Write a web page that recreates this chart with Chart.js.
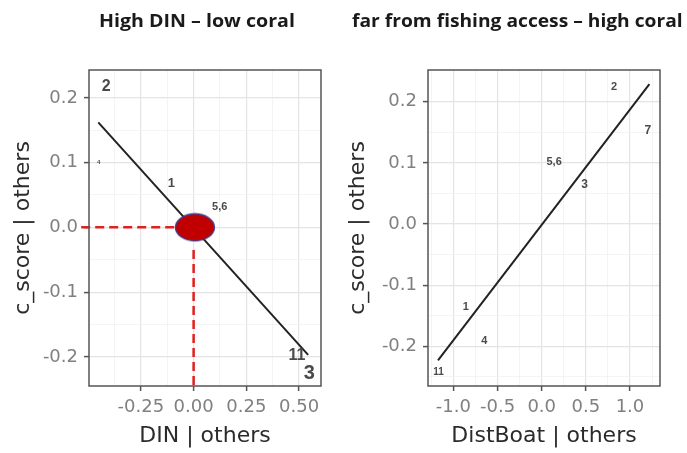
<!DOCTYPE html>
<html>
<head>
<meta charset="utf-8">
<script src="https://cdn.jsdelivr.net/npm/chart.js@4"></script>
<style>
body { margin: 0; background: #fff; width: 687px; height: 453px; position: relative; overflow: hidden; }
canvas { position: absolute; top: 0; }
.ttl { position: absolute; top: 11px; height: 20px; line-height: 20px; white-space: nowrap;
       font-family: "Open Sans", sans-serif; font-weight: bold; font-size: 17px; color: #1a1a1a; }
.ttl span { display: inline-block; transform-origin: 0 0; }
</style>
</head>
<body>
<canvas id="din" width="343" height="453" style="left:0"></canvas>
<canvas id="boat" width="344" height="453" style="left:343px"></canvas>
<div class="ttl" id="t1" style="left:99px" data-w="196"><span>High DIN – low coral</span></div>
<div class="ttl" id="t2" style="left:352px" data-w="331"><span>far from fishing access – high coral</span></div>
<script>
// ---- data ----
// left panel: added-variable plot for DIN
const dinLineX = [-0.452, 0.543];
const dinLineY = [0.162, -0.197];
const dinLabels = ['2', '4', '1', '5,6', '11', '3'];
const dinX = [-0.414, -0.45, -0.105, 0.124, 0.49, 0.548];
const dinY = [0.218, 0.101, 0.068, 0.031, -0.198, -0.225];
const dinMark = [0.006, 0.0];          // the red highlighted point (x, y)

// right panel: added-variable plot for DistBoat
const boatLineX = [-1.175, 1.22];
const boatLineY = [-0.223, 0.229];
const boatLabels = ['2', '7', '5,6', '3', '1', '4', '11'];
const boatX = [0.819, 1.203, 0.141, 0.486, -0.859, -0.65, -1.17];
const boatY = [0.224, 0.153, 0.101, 0.065, -0.136, -0.191, -0.243];

// axis ticks (all grid lines) and the labelled ones
const dinTicks = [-0.375, -0.25, -0.125, 0, 0.125, 0.25, 0.375, 0.5];
const dinMajor = [-0.25, 0, 0.25, 0.5];
const boatTicks = [-1.25, -1, -0.75, -0.5, -0.25, 0, 0.25, 0.5, 0.75, 1, 1.25];
const boatMajor = [-1, -0.5, 0, 0.5, 1];
const scoreTicksL = [-0.2, -0.15, -0.1, -0.05, 0, 0.05, 0.1, 0.15, 0.2];
const scoreTicksR = [-0.25, -0.2, -0.15, -0.1, -0.05, 0, 0.05, 0.1, 0.15, 0.2];
const scoreMajor = [-0.2, -0.1, 0, 0.1, 0.2];

// label font sizes (style only)
const dinLabelSize = [16, 6, 13, 11, 16, 20];
const boatLabelSize = [11, 12, 11, 12, 11, 11, 10];

function pts(xs, ys) {
	return xs.map((x, i) => ({x: x, y: ys[i]}));
}

// red ellipse used as a point style
const blob = document.createElement('canvas');
blob.width = 42; blob.height = 30;
const bctx = blob.getContext('2d');
bctx.beginPath();
bctx.ellipse(21, 15, 19.5, 13.5, 0, 0, 2 * Math.PI);
bctx.fillStyle = '#c00000';
bctx.fill();
bctx.strokeStyle = '#3c3f8c';
bctx.lineWidth = 1.3;
bctx.stroke();

// frame round the panel, like theme_bw
const panelBorder = {
	id: 'panelBorder',
	afterDatasetsDraw(chart) {
		const a = chart.chartArea, ctx = chart.ctx;
		ctx.save();
		ctx.strokeStyle = '#555';
		ctx.lineWidth = 1.5;
		ctx.strokeRect(a.left, a.top, a.right - a.left, a.bottom - a.top);
		ctx.restore();
	}
};

// text labels at the observation positions
const pointText = {
	id: 'pointText',
	afterDatasetsDraw(chart) {
		const ctx = chart.ctx;
		chart.data.datasets.forEach((ds, i) => {
			if (!ds.texts) return;
			chart.getDatasetMeta(i).data.forEach((p, j) => {
				ctx.save();
				ctx.font = 'bold ' + ds.textSizes[j] + 'px "Liberation Sans"';
				ctx.fillStyle = '#4a4a4a';
				ctx.textAlign = 'center';
				ctx.textBaseline = 'middle';
				ctx.fillText(ds.texts[j], p.x, p.y);
				ctx.restore();
			});
		});
	}
};

function axis(min, max, ticks, majors, digits, title, size, tpad) {
	const isMajor = (c) => c.tick && majors.includes(c.tick.value);
	return {
		type: 'linear', min: min, max: max,
		afterBuildTicks: (s) => { s.ticks = ticks.map(v => ({value: v})); },
		afterFit: (s) => { if (s.isHorizontal()) s.height = size; else s.width = size; },
		ticks: {
			autoSkip: false, maxRotation: 0, padding: 6,
			color: '#808080', font: {family: 'DejaVu Sans', size: 18},
			callback: (v) => majors.includes(v) ? v.toFixed(digits) : ''
		},
		grid: {
			color: (c) => isMajor(c) ? '#e4e4e4' : '#efefef',
			lineWidth: (c) => isMajor(c) ? 1.2 : 0.7,
			tickColor: (c) => isMajor(c) ? '#555' : 'rgba(0,0,0,0)',
			tickLength: 5, tickWidth: 1.5
		},
		border: {display: false},
		title: {
			display: true, text: title, color: '#2b2b2b',
			font: {family: 'DejaVu Sans', size: 22},
			padding: {top: tpad, bottom: tpad}
		}
	};
}

function baseOptions(pad) {
	return {
		responsive: false, animation: false,
		layout: {padding: pad},
		plugins: {legend: {display: false}, tooltip: {enabled: false}}
	};
}

// left chart
let dinOpts = baseOptions({left: 0, right: 22, top: 70, bottom: 0});
dinOpts.scales = {
	x: axis(-0.496, 0.604, dinTicks, dinMajor, 2, 'DIN | others', 67, 4),
	y: axis(-0.245, 0.243, scoreTicksL, scoreMajor, 1, 'c_score | others', 89, 10)
};
new Chart(document.getElementById('din'), {
	type: 'scatter',
	data: {datasets: [
		{data: [{x: dinMark[0], y: dinMark[1]}], pointStyle: blob, pointRadius: 10, order: 0},
		{data: pts([-0.533, -0.08], [dinMark[1], dinMark[1]]), showLine: true, pointRadius: 0,
			borderColor: '#e02020', borderWidth: 2.5, borderDash: [9, 5], clip: false, order: 1},
		{data: pts([dinMark[0] - 0.006, dinMark[0] - 0.006], [-0.035, -0.245]), showLine: true, pointRadius: 0,
			borderColor: '#e02020', borderWidth: 2.5, borderDash: [9, 5], order: 1},
		{data: pts(dinLineX, dinLineY), showLine: true, pointRadius: 0,
			borderColor: '#222', borderWidth: 2, order: 2},
		{data: pts(dinX, dinY), pointRadius: 0, texts: dinLabels, textSizes: dinLabelSize, order: 3}
	]},
	options: dinOpts,
	plugins: [pointText, panelBorder]
});

// right chart
let boatOpts = baseOptions({left: 0, right: 27, top: 70, bottom: 0});
boatOpts.scales = {
	x: axis(-1.288, 1.34, boatTicks, boatMajor, 1, 'DistBoat | others', 67, 4),
	y: axis(-0.265, 0.252, scoreTicksR, scoreMajor, 1, 'c_score | others', 85, 2)
};
new Chart(document.getElementById('boat'), {
	type: 'scatter',
	data: {datasets: [
		{data: pts(boatLineX, boatLineY), showLine: true, pointRadius: 0,
			borderColor: '#222', borderWidth: 2, order: 2},
		{data: pts(boatX, boatY), pointRadius: 0, texts: boatLabels, textSizes: boatLabelSize, order: 3}
	]},
	options: boatOpts,
	plugins: [pointText, panelBorder]
});

// stretch titles to the width they have in the picture
document.querySelectorAll('.ttl').forEach((d) => {
	const s = d.querySelector('span');
	s.style.transform = 'scaleX(' + (d.dataset.w / s.offsetWidth) + ')';
});
</script>
</body>
</html>
